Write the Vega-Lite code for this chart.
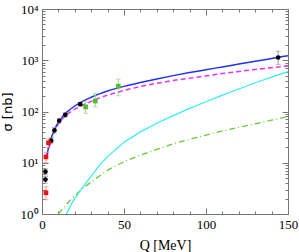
{
  "$schema": "https://vega.github.io/schema/vega-lite/v6.json",
  "width": 246,
  "height": 205,
  "autosize": {"type": "none"},
  "padding": {"left": 42, "top": 9, "right": 11, "bottom": 38},
  "background": "white",
  "config": {"view": {"stroke": "#777", "strokeWidth": 1}},
  "datasets": {
    "curves": [
      {"s":"b","Q":3,"v":14},{"s":"b","Q":4,"v":20},{"s":"b","Q":5,"v":26},{"s":"b","Q":6,"v":33},{"s":"b","Q":8,"v":47},{"s":"b","Q":10,"v":62},{"s":"b","Q":12,"v":76},{"s":"b","Q":15,"v":96},{"s":"b","Q":20,"v":128},{"s":"b","Q":25,"v":160},{"s":"b","Q":30,"v":190},{"s":"b","Q":35,"v":221},{"s":"b","Q":40,"v":251},{"s":"b","Q":50,"v":309},{"s":"b","Q":60,"v":367},{"s":"b","Q":70,"v":431},{"s":"b","Q":80,"v":501},{"s":"b","Q":90,"v":575},{"s":"b","Q":100,"v":653},{"s":"b","Q":110,"v":741},{"s":"b","Q":120,"v":841},{"s":"b","Q":130,"v":955},{"s":"b","Q":140,"v":1084},{"s":"b","Q":150,"v":1230},
      {"s":"m","Q":3,"v":13},{"s":"m","Q":4,"v":19},{"s":"m","Q":5,"v":25},{"s":"m","Q":6,"v":31},{"s":"m","Q":8,"v":44},{"s":"m","Q":10,"v":58},{"s":"m","Q":12,"v":70},{"s":"m","Q":15,"v":87},{"s":"m","Q":20,"v":111},{"s":"m","Q":25,"v":134},{"s":"m","Q":30,"v":158},{"s":"m","Q":35,"v":184},{"s":"m","Q":40,"v":209},{"s":"m","Q":50,"v":257},{"s":"m","Q":60,"v":309},{"s":"m","Q":70,"v":355},{"s":"m","Q":80,"v":403},{"s":"m","Q":90,"v":447},{"s":"m","Q":100,"v":495},{"s":"m","Q":110,"v":550},{"s":"m","Q":120,"v":603},{"s":"m","Q":130,"v":661},{"s":"m","Q":140,"v":716},{"s":"m","Q":150,"v":776},
      {"s":"c","Q":15,"v":1.0},{"s":"c","Q":18,"v":1.58},{"s":"c","Q":20,"v":2.0},{"s":"c","Q":25,"v":3.4},{"s":"c","Q":30,"v":5.5},{"s":"c","Q":35,"v":8.9},{"s":"c","Q":40,"v":13.2},{"s":"c","Q":50,"v":25},{"s":"c","Q":60,"v":40},{"s":"c","Q":70,"v":59},{"s":"c","Q":80,"v":83},{"s":"c","Q":90,"v":115},{"s":"c","Q":100,"v":155},{"s":"c","Q":110,"v":209},{"s":"c","Q":120,"v":275},{"s":"c","Q":130,"v":363},{"s":"c","Q":140,"v":468},{"s":"c","Q":150,"v":603},
      {"s":"g","Q":10,"v":1.0},{"s":"g","Q":12,"v":1.2},{"s":"g","Q":15,"v":1.55},{"s":"g","Q":20,"v":2.3},{"s":"g","Q":25,"v":3.2},{"s":"g","Q":30,"v":4.2},{"s":"g","Q":40,"v":7.2},{"s":"g","Q":50,"v":10.5},{"s":"g","Q":60,"v":14.1},{"s":"g","Q":70,"v":18.2},{"s":"g","Q":80,"v":23.4},{"s":"g","Q":90,"v":28.8},{"s":"g","Q":100,"v":34.7},{"s":"g","Q":110,"v":41.7},{"s":"g","Q":120,"v":49},{"s":"g","Q":130,"v":57.5},{"s":"g","Q":140,"v":67.6},{"s":"g","Q":150,"v":79.4}
    ],
    "pts": [
      {"g":"black","Q":2.1,"v":4.7,"lo":4.0,"hi":5.4},
      {"g":"black","Q":2.1,"v":6.7,"lo":5.8,"hi":7.6},
      {"g":"black","Q":5.6,"v":27,"lo":24,"hi":31},
      {"g":"black","Q":7.6,"v":43,"lo":38,"hi":49},
      {"g":"black","Q":10.5,"v":66,"lo":59,"hi":73},
      {"g":"black","Q":14.2,"v":86,"lo":78,"hi":95},
      {"g":"black","Q":23.3,"v":139,"lo":128,"hi":150},
      {"g":"black","Q":144,"v":1130,"lo":830,"hi":1500},
      {"g":"red","Q":2.4,"v":2.6,"lo":1.9,"hi":3.4},
      {"g":"red","Q":2.4,"v":13,"lo":10,"hi":16},
      {"g":"red","Q":4.0,"v":24.5,"lo":20,"hi":29},
      {"g":"green","Q":26.6,"v":123,"lo":92,"hi":155},
      {"g":"green","Q":32.5,"v":160,"lo":123,"hi":225},
      {"g":"green","Q":46.5,"v":313,"lo":203,"hi":427}
    ]
  },
  "resolve": {"axis": {"x": "independent", "y": "independent"}, "scale": {"color": "independent", "shape": "independent", "size": "independent"}},
  "layer": [
    {
      "data": {"name": "curves"},
      "transform": [{"filter": "datum.s == 'g'"}],
      "mark": {"type": "line", "color": "#66cc33", "strokeWidth": 1.3, "strokeDash": [6, 3, 1, 3], "clip": true},
      "encoding": {
        "x": {"field": "Q", "type": "quantitative", "scale": {"domain": [0, 150], "nice": false},
          "axis": {"orient": "bottom", "values": [0,10,20,30,40,50,60,70,80,90,100,110,120,130,140,150],
            "labelExpr": "datum.value % 50 == 0 ? datum.label : ''",
            "tickSize": {"condition": {"test": "datum.value % 50 == 0", "value": -6}, "value": -3},
            "labelPadding": 10, "labelFont": "Liberation Serif", "labelFontSize": 13, "labelColor": "#000",
            "labelFlush": false, "labelOverlap": false,
            "title": "Q [MeV]", "titleFont": "Liberation Serif", "titleFontSize": 14, "titleFontWeight": "normal", "titleColor": "#000", "titlePadding": 4,
            "domainColor": "#777", "tickColor": "#777", "grid": false}},
        "y": {"field": "v", "type": "quantitative", "scale": {"type": "log", "domain": [1, 10000], "nice": false},
          "axis": {"orient": "left", "values": [1,2,3,4,5,6,7,8,9,10,20,30,40,50,60,70,80,90,100,200,300,400,500,600,700,800,900,1000,2000,3000,4000,5000,6000,7000,8000,9000,10000],
            "labelExpr": "datum.value == 1 ? '10⁰' : datum.value == 10 ? '10¹' : datum.value == 100 ? '10²' : datum.value == 1000 ? '10³' : datum.value == 10000 ? '10⁴' : ''",
            "tickSize": {"condition": {"test": "abs(log(datum.value)/LN10 - round(log(datum.value)/LN10)) < 0.001", "value": -6}, "value": -3},
            "labelPadding": 10, "labelFont": "Liberation Serif", "labelFontSize": 13, "labelColor": "#000",
            "labelFlush": false, "labelOverlap": false,
            "title": "σ [nb]", "titleFont": "DejaVu Sans", "titleFontSize": 13, "titleFontWeight": "normal", "titleColor": "#000", "titlePadding": 6,
            "domainColor": "#777", "tickColor": "#777", "grid": false}}
      }
    },
    {
      "data": {"name": "curves"},
      "transform": [{"filter": "datum.s == 'c'"}],
      "mark": {"type": "line", "color": "#33eeee", "strokeWidth": 1.2, "clip": true},
      "encoding": {
        "x": {"field": "Q", "type": "quantitative", "axis": null},
        "y": {"field": "v", "type": "quantitative", "axis": null}
      }
    },
    {
      "data": {"name": "curves"},
      "transform": [{"filter": "datum.s == 'm'"}],
      "mark": {"type": "line", "color": "#ee33ee", "strokeWidth": 1.5, "strokeDash": [5, 3], "clip": true},
      "encoding": {
        "x": {"field": "Q", "type": "quantitative", "axis": null},
        "y": {"field": "v", "type": "quantitative", "axis": null}
      }
    },
    {
      "data": {"name": "curves"},
      "transform": [{"filter": "datum.s == 'b'"}],
      "mark": {"type": "line", "color": "#2233ee", "strokeWidth": 1.5, "clip": true, "interpolate": "monotone"},
      "encoding": {
        "x": {"field": "Q", "type": "quantitative", "axis": null},
        "y": {"field": "v", "type": "quantitative", "axis": null}
      }
    },
    {
      "data": {"name": "pts"},
      "mark": {"type": "errorbar", "ticks": {"size": 5}, "thickness": 1},
      "encoding": {
        "x": {"field": "Q", "type": "quantitative", "axis": null},
        "y": {"field": "lo", "type": "quantitative", "axis": null},
        "y2": {"field": "hi"},
        "color": {"field": "g", "type": "nominal", "scale": {"domain": ["black", "red", "green"], "range": ["#999999", "#ff8888", "#99dd88"]}, "legend": null}
      }
    },
    {
      "data": {"name": "pts"},
      "mark": {"type": "point", "filled": true, "opacity": 1},
      "encoding": {
        "x": {"field": "Q", "type": "quantitative",
          "axis": {"orient": "top", "values": [0,10,20,30,40,50,60,70,80,90,100,110,120,130,140,150], "labels": false, "title": null,
            "tickSize": {"condition": {"test": "datum.value % 50 == 0", "value": -6}, "value": -3},
            "domainColor": "#777", "tickColor": "#777", "grid": false}},
        "y": {"field": "v", "type": "quantitative",
          "axis": {"orient": "right", "values": [1,2,3,4,5,6,7,8,9,10,20,30,40,50,60,70,80,90,100,200,300,400,500,600,700,800,900,1000,2000,3000,4000,5000,6000,7000,8000,9000,10000], "labels": false, "title": null,
            "tickSize": {"condition": {"test": "abs(log(datum.value)/LN10 - round(log(datum.value)/LN10)) < 0.001", "value": -6}, "value": -3},
            "domainColor": "#777", "tickColor": "#777", "grid": false}},
        "shape": {"field": "g", "type": "nominal", "scale": {"domain": ["black", "red", "green"], "range": ["circle", "square", "square"]}, "legend": null},
        "color": {"field": "g", "type": "nominal", "scale": {"domain": ["black", "red", "green"], "range": ["#000000", "#ee1111", "#55bb33"]}, "legend": null},
        "size": {"field": "g", "type": "nominal", "scale": {"domain": ["black", "red", "green"], "range": [22, 22, 14]}, "legend": null}
      }
    },
    {
      "mark": {"type": "text", "text": "pp→ppη′", "font": "DejaVu Sans", "fontSize": 11, "align": "left", "baseline": "middle", "color": "#000"},
      "encoding": {
        "x": {"datum": 8, "type": "quantitative", "axis": null},
        "y": {"datum": 3400, "type": "quantitative", "axis": null}
      }
    },
    {
      "mark": {"type": "text", "text": "(b)", "font": "DejaVu Sans", "fontSize": 14, "align": "center", "baseline": "middle", "color": "#000"},
      "encoding": {
        "x": {"datum": 134, "type": "quantitative", "axis": null},
        "y": {"datum": 3.7, "type": "quantitative", "axis": null}
      }
    }
  ]
}
